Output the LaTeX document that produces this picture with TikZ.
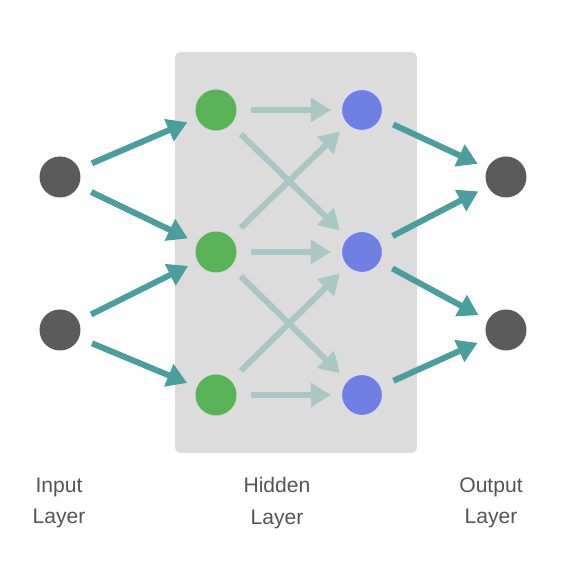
\documentclass[tikz,border=0pt]{standalone}
\usepackage{fontspec}
\setmainfont{Liberation Sans}
\usepackage{tikz}
\usetikzlibrary{arrows.meta}

\definecolor{boxgray}{HTML}{DCDCDC}
\definecolor{ingray}{HTML}{5B5B5B}
\definecolor{hidgreen}{HTML}{5BB359}
\definecolor{hidblue}{HTML}{6F80E2}
\definecolor{teal}{HTML}{4A9E9E}
\definecolor{paleteal}{HTML}{ABC7C3}
\definecolor{labelgray}{HTML}{555555}

\begin{document}
\begin{tikzpicture}[auto, thick,
    neuron/.style={circle, inner sep=0pt, minimum size=0.82cm},
    link/.style={-{Triangle[length=0.4cm,width=0.46cm]}, line width=0.12cm, teal,
                 shorten <=0.27cm, shorten >=0.2cm},
    weak/.style={link, paleteal},
    caption/.style={align=center, font=\fontsize{12}{18}\selectfont, text=labelgray}]
  \useasboundingbox (0,0) rectangle (11.62,11.5);
  % shaded hidden block
  \fill[boxgray, rounded corners=3pt] (3.5,2.44) rectangle (8.34,10.46);

  \node (I1) [neuron, fill=ingray] at (1.2,7.96) {};
  \node (I2) [neuron, fill=ingray] at (1.2,4.9) {};
  \node (H1) [neuron, fill=hidgreen] at (4.32,9.3) {};
  \node (H2) [neuron, fill=hidgreen] at (4.32,6.46) {};
  \node (H3) [neuron, fill=hidgreen] at (4.32,3.6) {};
  \node (B1) [neuron, fill=hidblue, draw=hidblue!25!white, line width=0.6pt] at (7.24,9.3) {};
  \node (B2) [neuron, fill=hidblue, draw=hidblue!25!white, line width=0.6pt] at (7.24,6.46) {};
  \node (B3) [neuron, fill=hidblue, draw=hidblue!25!white, line width=0.6pt] at (7.24,3.6) {};
  \node (O1) [neuron, fill=ingray] at (10.12,7.96) {};
  \node (O2) [neuron, fill=ingray] at (10.12,4.9) {};

  \path (I1) edge [link] (H1)
             edge [link] (H2)
        (I2) edge [link] (H2)
             edge [link] (H3);
  \path (H1) edge [weak] (B1)
             edge [weak] (B2)
        (H2) edge [weak] (B1)
             edge [weak] (B2)
             edge [weak] (B3)
        (H3) edge [weak] (B2)
             edge [weak] (B3);
  \path (B1) edge [link] (O1)
        (B2) edge [link] (O1)
             edge [link] (O2)
        (B3) edge [link] (O2);

  \node (Lin) [caption] at (1.18,1.44) {Input\\Layer};
  \node (Lhid) [caption] at (5.54,1.44) {Hidden\\Layer};
  \node (Lout) [caption] at (9.82,1.44) {Output\\Layer};
\end{tikzpicture}
\end{document}
